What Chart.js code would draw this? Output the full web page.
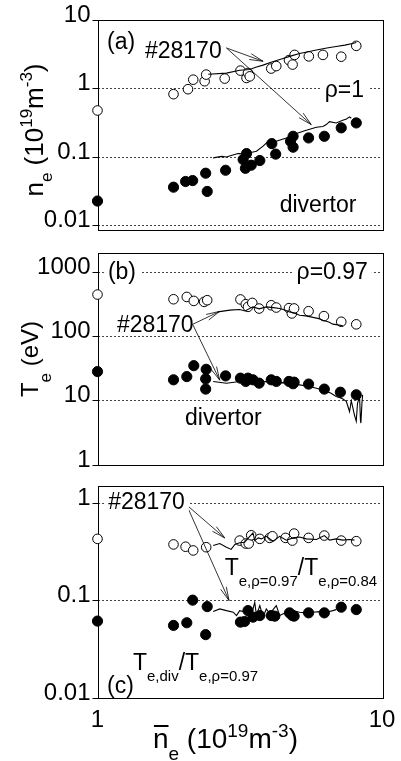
<!DOCTYPE html>
<html>
<head>
<meta charset="utf-8">
<script src="https://cdn.jsdelivr.net/npm/chart.js@4.4.0/dist/chart.umd.min.js"></script>
<style>
  html, body { margin: 0; padding: 0; background: #fff; }
  #wrap { position: relative; width: 401px; height: 761px; }
  #wrap canvas { position: absolute; left: 0; top: 0; }
</style>
</head>
<body>
<div id="wrap">
  <canvas id="chartA" width="401" height="761"></canvas>
  <canvas id="chartB" width="401" height="761"></canvas>
  <canvas id="chartC" width="401" height="761"></canvas>
</div>
<script>
// ---------- data ----------
const xTicks = [1, 10];
const xTickLabels = ['1', '10'];

// (a) edge / divertor density
const aTicks = [0.01, 0.1, 1, 10];
const aTickLabels = ['0.01', '0.1', '1', '10'];
const aOpenX = [1.0, 1.85, 2.08, 2.17, 2.38, 2.41, 2.80, 3.18, 3.34, 3.38, 3.43, 4.08, 4.25, 4.71, 4.85, 4.93, 5.53, 6.20, 7.19, 8.12];
const aOpenY = [0.48, 0.83, 0.98, 1.35, 1.28, 1.60, 1.40, 1.83, 1.43, 1.69, 1.51, 1.96, 2.13, 2.60, 2.24, 3.10, 2.95, 3.10, 2.92, 4.20];
const aFillX = [1.0, 1.85, 2.04, 2.16, 2.40, 2.43, 2.82, 3.25, 3.34, 3.31, 3.47, 3.72, 4.10, 4.23, 4.77, 4.87, 4.87, 5.52, 6.27, 7.19, 8.12];
const aFillY = [0.023, 0.0366, 0.0443, 0.0457, 0.0585, 0.0317, 0.0646, 0.0926, 0.113, 0.069, 0.0765, 0.0895, 0.158, 0.111, 0.171, 0.202, 0.14, 0.191, 0.202, 0.268, 0.316];
const aShotUpX = [2.45, 2.84, 3.16, 3.43, 3.6, 3.82, 4.1, 4.49, 4.8, 5.13, 5.5, 5.88, 6.4, 6.9, 7.4, 7.88, 8.12];
const aShotUpY = [1.62, 1.68, 1.85, 1.9, 2.05, 2.2, 2.45, 2.75, 3.0, 3.25, 3.45, 3.65, 3.9, 4.1, 4.3, 4.55, 4.7];
const aShotLowX = [2.55, 2.73, 2.84, 2.95, 3.12, 3.3, 3.43, 3.62, 3.82, 3.98, 4.25, 4.61, 5.0, 5.42, 5.88, 6.2, 6.37, 6.54, 6.9, 7.28, 7.5, 7.69, 7.8];
const aShotLowY = [0.098, 0.103, 0.101, 0.106, 0.113, 0.112, 0.116, 0.122, 0.145, 0.171, 0.171, 0.191, 0.221, 0.247, 0.273, 0.28, 0.299, 0.33, 0.316, 0.345, 0.36, 0.387, 0.37];

// (b) edge / divertor temperature
const bTicks = [1, 10, 100, 1000];
const bTickLabels = ['1', '10', '100', '1000'];
const bOpenX = [1.0, 1.85, 2.06, 2.18, 2.37, 2.43, 3.18, 3.32, 3.38, 3.50, 3.70, 4.08, 4.25, 4.71, 4.82, 4.91, 5.52, 6.25, 7.19, 8.12];
const bOpenY = [451, 381, 414, 359, 347, 368, 378, 319, 290, 334, 273, 307, 283, 277, 229, 274, 248, 208, 170, 155];
const bFillX = [1.0, 1.85, 2.06, 2.18, 2.40, 2.41, 2.40, 2.82, 3.18, 3.32, 3.38, 3.52, 3.70, 4.08, 4.25, 4.71, 4.87, 4.91, 5.52, 6.27, 7.14, 8.12];
const bFillY = [28.5, 21.2, 23.8, 35.2, 21.9, 30.9, 15.2, 24.4, 22.5, 20, 22.5, 21.2, 18.8, 21.2, 20, 20, 18.4, 19.5, 18.2, 15.2, 13.6, 12.4];
const bShotUpX = [2.65, 2.92, 3.16, 3.3, 3.52, 3.7, 3.92, 4.15, 4.37, 4.55, 4.73, 4.9, 5.13, 5.4, 5.72, 6.0, 6.2, 6.5, 6.72, 7.0, 7.28];
const bShotUpY = [242, 258, 264, 250, 290, 270, 290, 282, 274, 260, 242, 235, 215, 210, 199, 190, 180, 168, 156, 152, 147];
const bShotLowX = [2.55, 2.84, 3.16, 3.35, 3.52, 3.7, 3.92, 4.2, 4.49, 4.8, 5.13, 5.5, 5.88, 6.1, 6.37, 6.6, 6.9, 7.2, 7.49, 7.6, 7.69, 7.8, 7.88, 8.0, 8.12, 8.2, 8.34, 8.4, 8.43, 8.5, 8.55];
const bShotLowY = [20, 18.8, 20, 19.2, 20.6, 19.5, 20, 19, 19.2, 18.5, 17.7, 16.8, 15.7, 15, 13.9, 13.2, 11.7, 11, 9.8, 8, 6.8, 10, 8.2, 6, 4.8, 9, 11.7, 5, 4.5, 9, 12.4];

// (c) temperature ratios
const cTicks = [0.01, 0.1, 1];
const cTickLabels = ['0.01', '0.1', '1'];
const cOpenX = [1.0, 1.85, 2.04, 2.17, 2.41, 3.16, 3.32, 3.40, 3.47, 3.72, 4.03, 4.12, 4.58, 4.84, 4.91, 5.52, 6.27, 7.19, 8.12];
const cOpenY = [0.43, 0.377, 0.357, 0.327, 0.353, 0.413, 0.385, 0.385, 0.468, 0.43, 0.44, 0.457, 0.44, 0.413, 0.487, 0.44, 0.465, 0.413, 0.407];
const cFillX = [1.0, 1.85, 2.06, 2.16, 2.40, 2.43, 3.18, 3.29, 3.38, 3.52, 3.72, 4.08, 4.20, 4.73, 4.84, 4.91, 5.52, 6.27, 7.19, 8.12];
const cFillY = [0.0616, 0.0556, 0.0592, 0.101, 0.0447, 0.0867, 0.0601, 0.061, 0.0789, 0.0676, 0.0702, 0.0702, 0.0692, 0.0748, 0.0702, 0.0692, 0.0748, 0.0748, 0.0855, 0.0808];
const cShotUpX = [2.55, 2.69, 2.84, 2.95, 3.04, 3.16, 3.29, 3.43, 3.52, 3.57, 3.67, 3.77, 3.92, 4.14, 4.37, 4.61, 4.87, 5.13, 5.42, 5.88, 6.27, 6.54, 6.9, 7.28, 7.69, 8.0];
const cShotUpY = [0.368, 0.385, 0.353, 0.335, 0.377, 0.392, 0.397, 0.457, 0.495, 0.413, 0.44, 0.43, 0.457, 0.407, 0.457, 0.417, 0.44, 0.45, 0.43, 0.424, 0.465, 0.417, 0.43, 0.417, 0.424, 0.417];
const cShotLowX = [2.55, 2.69, 2.84, 3.0, 3.08, 3.16, 3.34, 3.47, 3.57, 3.62, 3.72, 3.82, 3.92, 4.03, 4.25, 4.37, 4.61, 4.87, 5.13, 5.42, 5.72, 6.03, 6.37, 6.72, 6.9];
const cShotLowY = [0.0771, 0.0822, 0.0789, 0.076, 0.0702, 0.0789, 0.076, 0.0702, 0.0961, 0.0702, 0.0887, 0.0676, 0.0822, 0.0731, 0.0887, 0.0702, 0.076, 0.0789, 0.076, 0.0748, 0.076, 0.0771, 0.076, 0.0789, 0.0807];

// ---------- annotations (data coordinates) ----------
const aNotes = [
    { parts: [['(a)', 0]], x: 1.08, y: 4.67, mid: true },
    { parts: [['#28170', 0]], x: 1.468, y: 3.46, mid: true },
    { parts: [['ρ=1', 0]], x: 6.29, y: 0.92, mid: true, bg: true },
    { parts: [['divertor', 0]], x: 4.37, y: 0.0198, mid: true }
];
const aArrows = [[2.84, 3.91, 3.82, 2.50], [2.84, 3.91, 5.64, 0.299]];

const bNotes = [
    { parts: [['(b)', 0]], x: 1.088, y: 1000, mid: true, bg: true },
    { parts: [['ρ=0.97', 0]], x: 5.01, y: 1000, mid: true, bg: true },
    { parts: [['#28170', 0]], x: 1.17, y: 150, mid: true },
    { parts: [['divertor', 0]], x: 2.03, y: 5.31, mid: true }
];
const bArrows = [[2.16, 155, 2.69, 247], [2.16, 155, 2.69, 20.9]];

const cNotes = [
    { parts: [['#28170', 0]], x: 1.09, y: 1, mid: true, bg: true },
    { parts: [['T', 0], ['e,ρ=0.97', 1], ['/T', 0], ['e,ρ=0.84', 1]], x: 2.80, y: 0.182 },
    { parts: [['(c)', 0]], x: 1.08, y: 0.0132, mid: true },
    { parts: [['T', 0], ['e,div', 1], ['/T', 0], ['e,ρ=0.97', 1]], x: 1.332, y: 0.0192 }
];
const cArrows = [[2.056, 0.96, 2.80, 0.44], [2.056, 0.96, 2.90, 0.1]];

// ---------- helpers ----------
const FONT = "'Liberation Sans', Arial, sans-serif";

const toPoints = (xs, ys) => xs.map((x, i) => ({ x: x, y: ys[i] }));

function drawParts(ctx, parts, x, y, main, sub, drop, rise) {
    let cx = x;
    parts.forEach(([t, lvl]) => {
        ctx.font = (lvl ? sub : main) + 'px ' + FONT;
        const dy = lvl === 1 ? drop : (lvl === -1 ? -rise : 0);
        ctx.fillText(t, cx, y + dy);
        cx += ctx.measureText(t).width;
    });
    return cx - x;
}

function partsWidth(ctx, parts, main, sub) {
    let w = 0;
    parts.forEach(([t, lvl]) => {
        ctx.font = (lvl ? sub : main) + 'px ' + FONT;
        w += ctx.measureText(t).width;
    });
    return w;
}

function arrow(ctx, x1, y1, x2, y2) {
    const ang = Math.atan2(y2 - y1, x2 - x1), len = 14, spread = 0.22;
    ctx.beginPath();
    ctx.moveTo(x1, y1);
    ctx.lineTo(x2, y2);
    ctx.moveTo(x2 - len * Math.cos(ang - spread), y2 - len * Math.sin(ang - spread));
    ctx.lineTo(x2, y2);
    ctx.lineTo(x2 - len * Math.cos(ang + spread), y2 - len * Math.sin(ang + spread));
    ctx.stroke();
}

// plot frame, drawn under the markers
const framePlugin = {
    id: 'frame',
    beforeDatasetsDraw(chart) {
        const { ctx, chartArea: a } = chart;
        ctx.save();
        ctx.strokeStyle = '#000';
        ctx.lineWidth = 1;
        ctx.strokeRect(Math.round(a.left) + 0.5, Math.round(a.top) + 0.5,
            Math.round(a.right - a.left), Math.round(a.bottom - a.top));
        ctx.restore();
    }
};

function notesPlugin(notes, arrows) {
    return {
        id: 'notes',
        afterDatasetsDraw(chart) {
            const { ctx } = chart;
            const xs = chart.scales.x, ys = chart.scales.y;
            ctx.save();
            ctx.strokeStyle = '#000';
            ctx.lineWidth = 0.8;
            arrows.forEach(([x1, y1, x2, y2]) => {
                arrow(ctx, xs.getPixelForValue(x1), ys.getPixelForValue(y1),
                    xs.getPixelForValue(x2), ys.getPixelForValue(y2));
            });
            notes.forEach(n => {
                const px = xs.getPixelForValue(n.x), py = ys.getPixelForValue(n.y);
                ctx.textBaseline = n.mid ? 'middle' : 'alphabetic';
                if (n.bg) {
                    const w = partsWidth(ctx, n.parts, 23, 15);
                    ctx.fillStyle = '#fff';
                    ctx.fillRect(px - 4, py - 12, w + 8, 24);
                }
                ctx.fillStyle = '#000';
                drawParts(ctx, n.parts, px, py, 23, 15, 11, 10);
            });
            ctx.restore();
        }
    };
}

// rotated y-axis title
function yTitlePlugin(parts, baseX, centerY, main, sub, drop, rise) {
    return {
        id: 'ytitle',
        afterDraw(chart) {
            const { ctx } = chart;
            ctx.save();
            ctx.fillStyle = '#000';
            ctx.textBaseline = 'alphabetic';
            const w = partsWidth(ctx, parts, main, sub);
            ctx.translate(baseX, centerY);
            ctx.rotate(-Math.PI / 2);
            drawParts(ctx, parts, -w / 2, 0, main, sub, drop, rise);
            ctx.restore();
        }
    };
}

// x-axis title with the bar over n
const xTitlePlugin = {
    id: 'xtitle',
    afterDraw(chart) {
        const { ctx, chartArea: a } = chart;
        const parts = [['n', 0], ['e', 1], [' (10', 0], ['19', -1], ['m', 0], ['-3', -1], [')', 0]];
        const x0 = chart.scales.x.getPixelForValue(1.566);
        const base = a.bottom + 50;
        ctx.save();
        ctx.fillStyle = '#000';
        ctx.textBaseline = 'alphabetic';
        drawParts(ctx, parts, x0, base, 28, 19, 12, 11);
        ctx.font = '28px ' + FONT;
        const nw = ctx.measureText('n').width;
        ctx.fillRect(x0 + 1, base - 23, nw - 1, 2);
        ctx.restore();
    }
};

function yAxis(min, max, ticks, labels) {
    return {
        type: 'logarithmic',
        min: min,
        max: max,
        afterBuildTicks: s => { s.ticks = ticks.map(v => ({ value: v })); },
        afterFit: s => { s.width = 97.5; },
        ticks: {
            font: { family: FONT, size: 24 },
            color: '#000',
            padding: 2,
            labelOffset: -5,
            autoSkip: false,
            callback: (v, i) => labels[i]
        },
        grid: { color: '#444', lineWidth: 1, drawTicks: true, tickLength: 5, tickColor: '#000', tickWidth: 1 },
        border: { display: false, dash: [2, 2] }
    };
}

function xAxis(show) {
    return {
        type: 'logarithmic',
        min: 1,
        max: 10,
        display: show,
        afterBuildTicks: s => { s.ticks = xTicks.map(v => ({ value: v })); },
        afterFit: s => { s.height = show ? 63 : 0; },
        ticks: {
            font: { family: FONT, size: 24 },
            color: '#000',
            padding: 0,
            maxRotation: 0,
            autoSkip: false,
            callback: (v, i) => xTickLabels[i]
        },
        grid: { display: false },
        border: { display: false }
    };
}

function datasets(openX, openY, fillX, fillY, upX, upY, lowX, lowY) {
    const line = (xs, ys) => ({
        data: toPoints(xs, ys), showLine: true, borderColor: '#000', borderWidth: 1.1,
        pointRadius: 0, tension: 0, fill: false, order: 0
    });
    return [
        line(upX, upY),
        line(lowX, lowY),
        { data: toPoints(openX, openY), pointRadius: 4.8, pointBackgroundColor: '#fff',
          pointBorderColor: '#000', pointBorderWidth: 1, showLine: false, clip: false, order: 1 },
        { data: toPoints(fillX, fillY), pointRadius: 5.1, pointBackgroundColor: '#000',
          pointBorderColor: '#000', pointBorderWidth: 1, showLine: false, clip: false, order: 1 }
    ];
}

function makePanel(id, padding, yCfg, sets, plugins, showX) {
    new Chart(document.getElementById(id), {
        type: 'scatter',
        data: { datasets: sets },
        options: {
            responsive: false,
            animation: false,
            events: [],
            layout: { padding: padding },
            plugins: { legend: { display: false }, tooltip: { enabled: false } },
            scales: { x: xAxis(showX), y: yCfg }
        },
        plugins: [framePlugin].concat(plugins)
    });
}

// ---------- panels ----------
makePanel('chartA', { left: 0, right: 19, top: 20, bottom: 531 },
    yAxis(0.0087, 10, aTicks, aTickLabels),
    datasets(aOpenX, aOpenY, aFillX, aFillY, aShotUpX, aShotUpY, aShotLowX, aShotLowY),
    [notesPlugin(aNotes, aArrows),
     yTitlePlugin([['n', 0], ['e', 1], [' (10', 0], ['19', -1], ['m', 0], ['-3', -1], [')', 0]], 43, 130, 26, 17, 9, 11)],
    false);

makePanel('chartB', { left: 0, right: 19, top: 253, bottom: 296 },
    yAxis(1, 2000, bTicks, bTickLabels),
    datasets(bOpenX, bOpenY, bFillX, bFillY, bShotUpX, bShotUpY, bShotLowX, bShotLowY),
    [notesPlugin(bNotes, bArrows),
     yTitlePlugin([['T', 0], ['e', 1], [' (eV)', 0]], 38, 359, 24, 17, 13, 10)],
    false);

makePanel('chartC', { left: 0, right: 19, top: 486, bottom: 0 },
    yAxis(0.01, 1.5, cTicks, cTickLabels),
    datasets(cOpenX, cOpenY, cFillX, cFillY, cShotUpX, cShotUpY, cShotLowX, cShotLowY),
    [notesPlugin(cNotes, cArrows), xTitlePlugin],
    true);
</script>
</body>
</html>
